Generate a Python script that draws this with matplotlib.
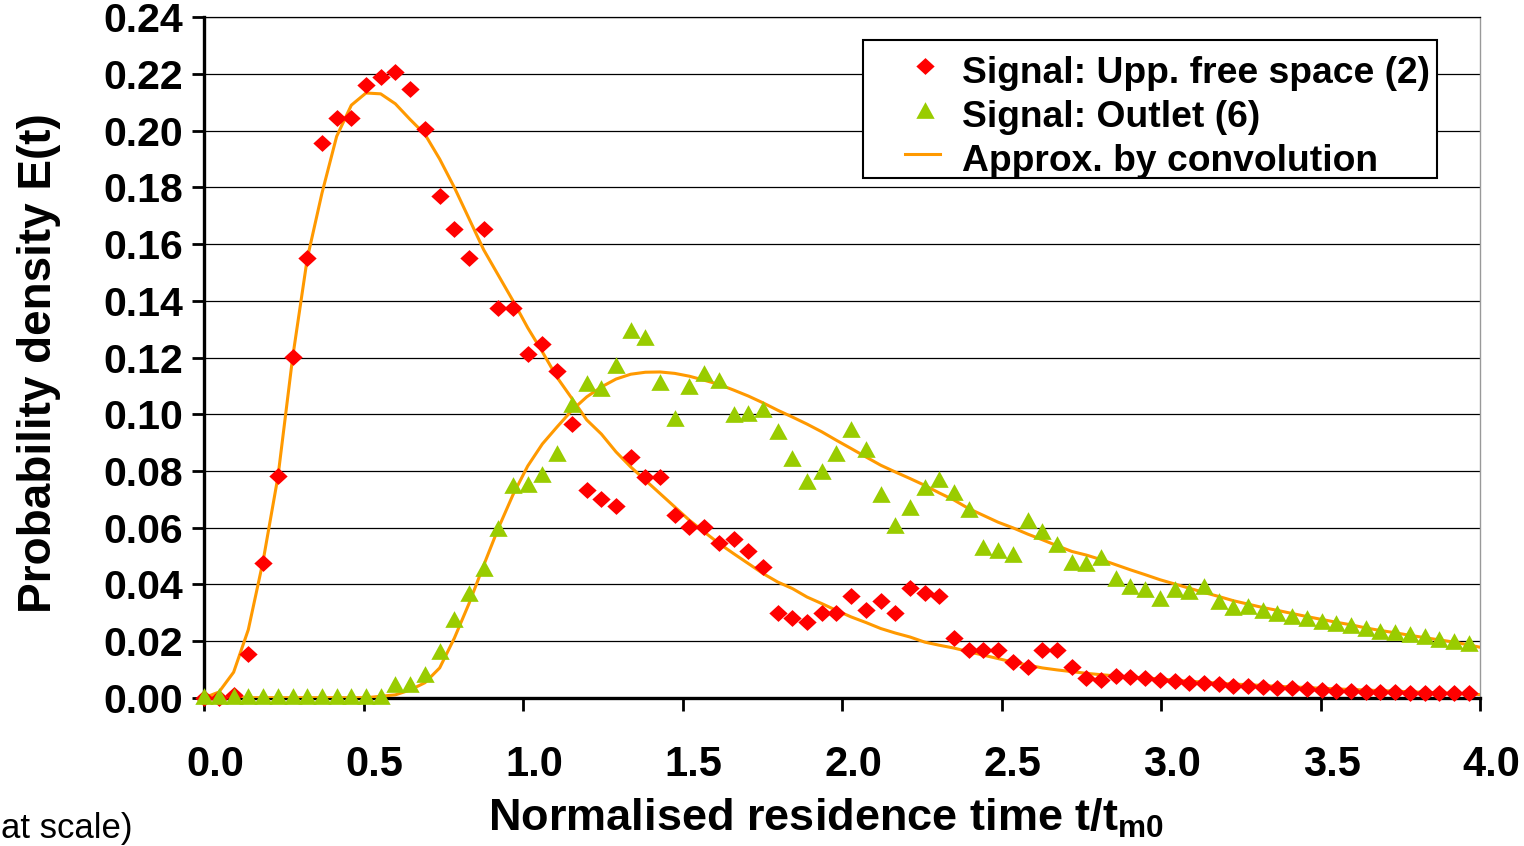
import matplotlib
matplotlib.use('Agg')
import matplotlib.pyplot as plt
from matplotlib.path import Path
from matplotlib.lines import Line2D
from matplotlib.patches import Rectangle
import matplotlib.transforms as mtransforms

plt.rcParams['font.family'] = ['Liberation Sans', 'DejaVu Sans']
plt.rcParams['font.weight'] = 'bold'
plt.rcParams['mathtext.fontset'] = 'custom'
plt.rcParams['mathtext.rm'] = 'Liberation Sans:bold'
plt.rcParams['mathtext.bf'] = 'Liberation Sans:bold'

# normalised time of each sample
t = [0.000, 0.046, 0.092, 0.138, 0.184, 0.231, 0.277, 0.323, 0.369, 0.415,
     0.461, 0.507, 0.553, 0.599, 0.645, 0.692, 0.738, 0.784, 0.830, 0.876,
     0.922, 0.968, 1.014, 1.060, 1.106, 1.153, 1.199, 1.245, 1.291, 1.337,
     1.383, 1.429, 1.475, 1.521, 1.567, 1.614, 1.660, 1.706, 1.752, 1.798,
     1.844, 1.890, 1.936, 1.982, 2.028, 2.075, 2.121, 2.167, 2.213, 2.259,
     2.305, 2.351, 2.397, 2.443, 2.489, 2.536, 2.582, 2.628, 2.674, 2.720,
     2.766, 2.812, 2.858, 2.904, 2.950, 2.997, 3.043, 3.089, 3.135, 3.181,
     3.227, 3.273, 3.319, 3.365, 3.411, 3.458, 3.504, 3.550, 3.596, 3.642,
     3.688, 3.734, 3.780, 3.826, 3.872, 3.919, 3.965]

# signal upper free space (2)
e_upp = [0.000, 0.000, 0.001, 0.0154, 0.0475, 0.0781, 0.1203, 0.155, 0.1956, 0.2045,
         0.2045, 0.216, 0.219, 0.2208, 0.2148, 0.2005, 0.177, 0.1652, 0.155, 0.1652,
         0.1375, 0.1375, 0.1213, 0.1248, 0.1153, 0.0965, 0.0732, 0.0702, 0.0675, 0.0849,
         0.0779, 0.0779, 0.0646, 0.0602, 0.0602, 0.0544, 0.0561, 0.0518, 0.0461, 0.0299,
         0.0281, 0.0267, 0.030, 0.030, 0.036, 0.0311, 0.0341, 0.0299, 0.0388, 0.0369,
         0.036, 0.0212, 0.0168, 0.0168, 0.0168, 0.0127, 0.011, 0.0168, 0.0168, 0.011,
         0.0068, 0.0062, 0.0078, 0.0074, 0.0068, 0.0062, 0.0059, 0.0053, 0.0051, 0.0047,
         0.0042, 0.0041, 0.0037, 0.0035, 0.0033, 0.0031, 0.0027, 0.0025, 0.0024, 0.0021,
         0.002, 0.0019, 0.0018, 0.0015, 0.0015, 0.0015, 0.0015]

# signal outlet (6)
e_out = [0.0005, 0.0005, 0.0005, 0.0005, 0.0005, 0.0005, 0.0005, 0.0005, 0.0005, 0.0005,
         0.0005, 0.0005, 0.0005, 0.005, 0.005, 0.0083, 0.0166, 0.0279, 0.037, 0.0457,
         0.060, 0.075, 0.0755, 0.079, 0.0864, 0.1035, 0.111, 0.1094, 0.1173, 0.1296,
         0.1273, 0.1114, 0.0985, 0.1101, 0.1147, 0.112, 0.0999, 0.1005, 0.102, 0.0941,
         0.0844, 0.0764, 0.080, 0.0864, 0.0949, 0.0879, 0.072, 0.0608, 0.0671, 0.0744,
         0.0773, 0.0724, 0.0664, 0.053, 0.0522, 0.0507, 0.0628, 0.0587, 0.0542, 0.0477,
         0.0475, 0.0496, 0.0422, 0.0395, 0.0383, 0.0351, 0.0383, 0.0375, 0.0395, 0.0342,
         0.0319, 0.0322, 0.031, 0.030, 0.0289, 0.028, 0.0269, 0.0263, 0.0255, 0.0245,
         0.0237, 0.0231, 0.0224, 0.0216, 0.0207, 0.0201, 0.0192]

# convolution approximations (same samples + end point at 4.0)
t_fit = t + [4.0]
fit_upp = [0.000, 0.002, 0.009, 0.024, 0.048, 0.078, 0.120, 0.155, 0.178, 0.198,
           0.209, 0.2133, 0.213, 0.2095, 0.204, 0.1987, 0.190, 0.180, 0.169, 0.158,
           0.149, 0.140, 0.1305, 0.122, 0.113, 0.1055, 0.098, 0.093, 0.0867, 0.0814,
           0.0767, 0.072, 0.0673, 0.0626, 0.0585, 0.0544, 0.0508, 0.0473, 0.0438, 0.0408,
           0.0385, 0.0355, 0.0332, 0.0308, 0.0285, 0.0265, 0.0244, 0.0228, 0.0214, 0.0196,
           0.0185, 0.0175, 0.0162, 0.015, 0.0138, 0.0125, 0.0115, 0.0105, 0.0098, 0.0092,
           0.0086, 0.0081, 0.0077, 0.0073, 0.007, 0.0066, 0.0062, 0.0058, 0.0055, 0.0051,
           0.0048, 0.0046, 0.0043, 0.004, 0.0038, 0.0036, 0.0033, 0.0031, 0.0029, 0.0027,
           0.0025, 0.0023, 0.0021, 0.0019, 0.0017, 0.0015, 0.0013, 0.0011]
fit_out = [0.0, 0.0, 0.0, 0.0, 0.0, 0.0, 0.0, 0.0, 0.0, 0.0,
           0.0, 0.0, 0.0005, 0.001, 0.0027, 0.0053, 0.0105, 0.021, 0.0332, 0.0467,
           0.0598, 0.0716, 0.0817, 0.0895, 0.0955, 0.1014, 0.1061, 0.1096, 0.1124, 0.1141,
           0.1148, 0.1149, 0.1144, 0.1134, 0.112, 0.1105, 0.1085, 0.1064, 0.104, 0.1014,
           0.099, 0.0965, 0.0938, 0.0908, 0.0879, 0.0849, 0.082, 0.0796, 0.0773, 0.0749,
           0.0722, 0.0697, 0.0667, 0.0643, 0.0619, 0.0599, 0.0577, 0.0557, 0.0536, 0.0516,
           0.0503, 0.0487, 0.0469, 0.0451, 0.0434, 0.0416, 0.0401, 0.0386, 0.0371, 0.0357,
           0.0342, 0.033, 0.0318, 0.0308, 0.0297, 0.0286, 0.0276, 0.0266, 0.0257, 0.0246,
           0.0237, 0.0229, 0.022, 0.0212, 0.0204, 0.0196, 0.0186, 0.0178]

xticks = [0.0, 0.5, 1.0, 1.5, 2.0, 2.5, 3.0, 3.5, 4.0]
yticks = [0.00, 0.02, 0.04, 0.06, 0.08, 0.10, 0.12, 0.14, 0.16, 0.18, 0.20, 0.22, 0.24]

red = '#FF0000'
green = '#99CC00'
orange = '#FF9900'

# diamond / triangle like the excel markers
diamond = Path([(0, -0.92), (1, 0), (0, 0.92), (-1, 0), (0, -0.92)])
triangle = Path([(-1, -0.91), (1, -0.91), (0, 0.91), (-1, -0.91)])
ms_d = 13.2
ms_t = 13.2

W, H = 1524, 846
fig = plt.figure(figsize=(15.24, 8.46), dpi=100)
ax = fig.add_axes([204.3 / W, 1 - 697.7 / H, 1275.7 / W, 680.4 / H])

ax.plot(t_fit, fit_upp, color=orange, lw=2.2, zorder=3)
ax.plot(t_fit, fit_out, color=orange, lw=2.2, zorder=3)
ax.plot(t, e_upp, ls='none', marker=diamond, ms=ms_d, color=red, mec='none', zorder=4, clip_on=False)
ax.plot(t, e_out, ls='none', marker=triangle, ms=ms_t, color=green, mec='none', zorder=5, clip_on=False)

ax.set_xlim(0, 4.0)
ax.set_ylim(0, 0.24)
ax.set_xticks(xticks)
ax.set_yticks(yticks)
ax.set_xticklabels(['%.1f' % v for v in xticks])
ax.set_yticklabels(['%.2f' % v for v in yticks])
ax.yaxis.grid(True, color='black', lw=0.9)
ax.set_axisbelow(True)

ax.tick_params(axis='x', direction='out', length=9, width=2, pad=25, labelsize=30)
ax.tick_params(axis='y', direction='out', length=9, width=2, pad=6.5, labelsize=29.5)
for lab in ax.get_xticklabels():
    lab.set_transform(lab.get_transform() + mtransforms.ScaledTranslation(0.11, 0, fig.dpi_scale_trans))

ax.spines['left'].set_linewidth(2.4)
ax.spines['bottom'].set_linewidth(2.4)
ax.spines['top'].set_linewidth(0.9)
ax.spines['right'].set_color('#999999')
ax.spines['right'].set_linewidth(1)

# axis titles
fig.text(39 / W, 1 - 363.5 / H, 'Probability density E(t)', rotation=90,
         ha='center', va='center', fontsize=33, fontweight='bold')
fig.text(488 / W, 1 - 831 / H, r'Normalised residence time t/t$_{\mathrm{m0}}$',
         ha='left', va='baseline', fontsize=32.5, fontweight='bold')
fig.text(1 / W, 1 - 838 / H, 'at scale)', ha='left', va='baseline',
         fontsize=25, fontweight='normal')

# legend box
fig.add_artist(Rectangle((863 / W, 1 - 178 / H), 574 / W, 138 / H, transform=fig.transFigure,
                         facecolor='white', edgecolor='black', lw=1.5, zorder=10))
fig.add_artist(Line2D([925 / W], [1 - 66 / H], transform=fig.transFigure, ls='none',
                      marker=diamond, ms=ms_d, color=red, mec='none', zorder=11))
fig.add_artist(Line2D([925 / W], [1 - 110 / H], transform=fig.transFigure, ls='none',
                      marker=triangle, ms=ms_t, color=green, mec='none', zorder=11))
fig.add_artist(Line2D([905 / W, 940 / W], [1 - 154 / H, 1 - 154 / H], transform=fig.transFigure,
                      color=orange, lw=2.2, zorder=11))
leg_labels = ['Signal: Upp. free space (2)', 'Signal: Outlet (6)', 'Approx. by convolution']
for i, lab in enumerate(leg_labels):
    fig.text(962 / W, 1 - (83 + 44 * i) / H, lab, ha='left', va='baseline',
             fontsize=26.8, fontweight='bold', zorder=12)

fig.savefig('out.png', dpi=100)
